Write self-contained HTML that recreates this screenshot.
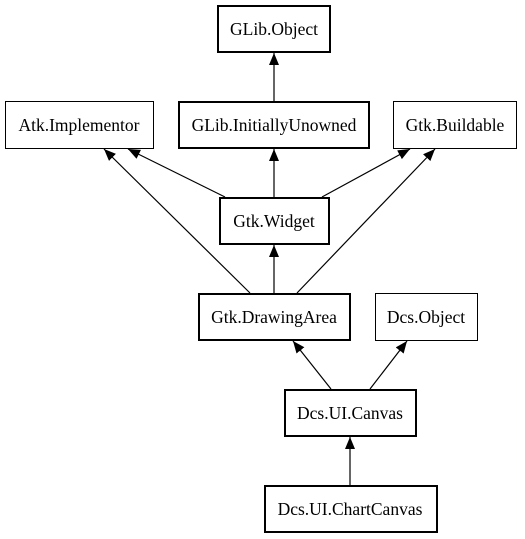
<!DOCTYPE html>
<html><head><style>body{margin:0;background:#fff}svg{display:block}text{font-family:"Liberation Serif",serif;font-size:17.5px;text-anchor:middle}</style></head>
<body>
<svg width="525" height="539" xmlns="http://www.w3.org/2000/svg">
<defs><marker id="a" markerWidth="12" markerHeight="10" refX="12" refY="5" orient="auto" markerUnits="userSpaceOnUse"><path d="M0,0L12,5L0,10z" fill="#000"/></marker></defs>
<g stroke="#000" fill="#fff">
<rect x="218" y="6" width="112" height="46" stroke-width="2"/>
<rect x="5.5" y="101.5" width="148" height="47" stroke-width="1"/>
<rect x="179" y="102" width="190" height="46" stroke-width="2"/>
<rect x="393.5" y="101.5" width="123" height="47" stroke-width="1"/>
<rect x="220" y="198" width="109" height="46" stroke-width="2"/>
<rect x="199" y="294" width="151" height="46" stroke-width="2"/>
<rect x="375.5" y="293.5" width="102" height="47" stroke-width="1"/>
<rect x="285" y="390" width="131" height="46" stroke-width="2"/>
<rect x="265" y="486" width="172" height="46" stroke-width="2"/>
</g>
<g stroke="#000" stroke-width="1.2" marker-end="url(#a)">
<line x1="274" y1="101" x2="274" y2="53"/>
<line x1="274" y1="197" x2="274" y2="149"/>
<line x1="274" y1="293" x2="274" y2="245"/>
<line x1="225" y1="197" x2="128" y2="149"/>
<line x1="250" y1="293" x2="104" y2="149"/>
<line x1="322" y1="197" x2="410" y2="149"/>
<line x1="297" y1="293" x2="435" y2="149"/>
<line x1="331" y1="389" x2="293" y2="341"/>
<line x1="370" y1="389" x2="407" y2="341"/>
<line x1="350" y1="485" x2="350" y2="437"/>
</g>
<text x="274" y="35">GLib.Object</text>
<text x="79" y="131">Atk.Implementor</text>
<text x="274" y="131">GLib.InitiallyUnowned</text>
<text x="455" y="131">Gtk.Buildable</text>
<text x="274" y="227">Gtk.Widget</text>
<text x="274" y="323">Gtk.DrawingArea</text>
<text x="426" y="323">Dcs.Object</text>
<text x="350" y="419">Dcs.UI.Canvas</text>
<text x="350" y="515">Dcs.UI.ChartCanvas</text>
</svg>
</body></html>
